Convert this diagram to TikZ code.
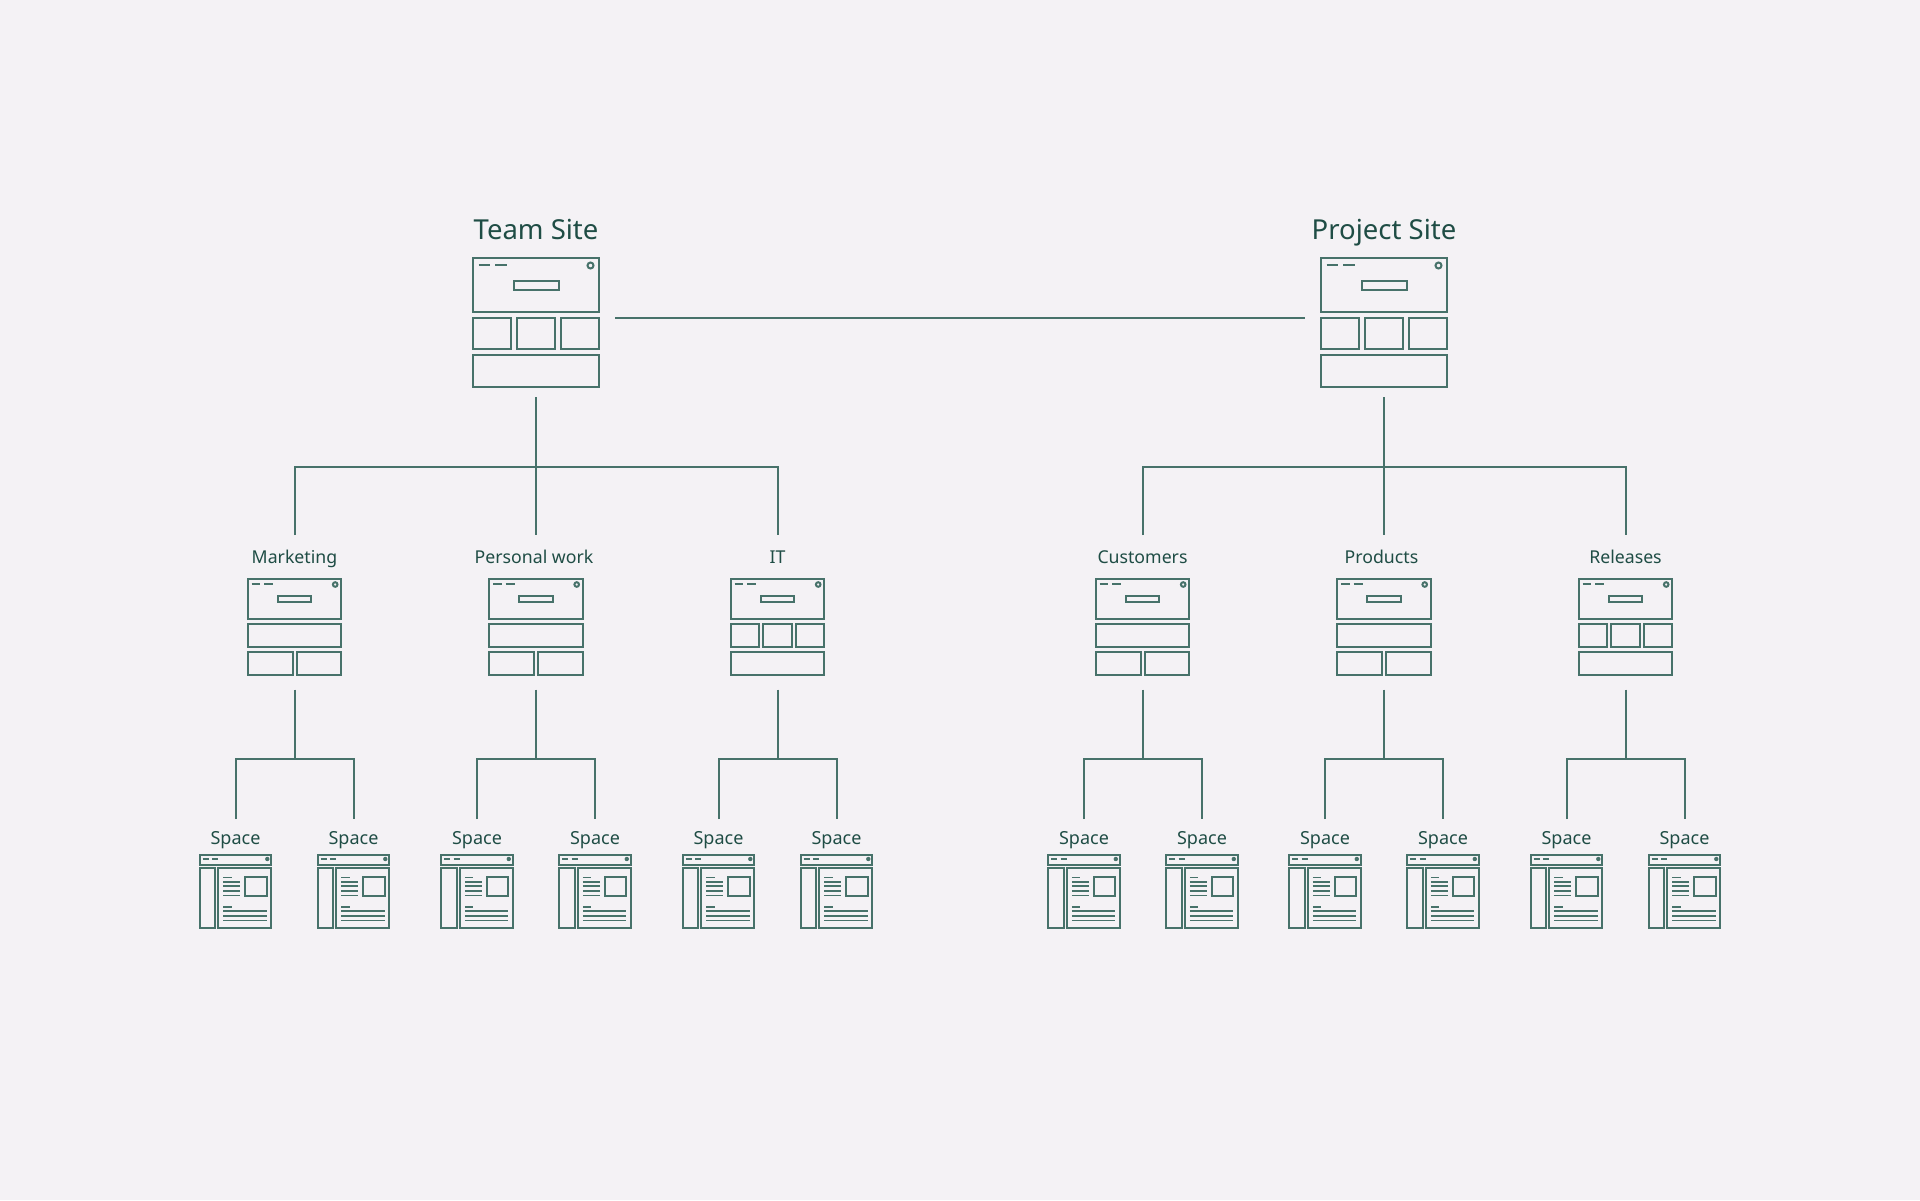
\documentclass[tikz,border=0pt]{standalone}
\usepackage{fontspec}
\setmainfont{Noto Sans}
\definecolor{bgc}{HTML}{F4F2F5}
\definecolor{lnc}{HTML}{47726A}
\definecolor{txc}{HTML}{1F4D45}
\tikzset{
  ln/.style={draw=lnc,line width=2pt,fill=none},
  thin ln/.style={draw=lnc,line width=1.6pt},
  hit/.style={inner sep=0pt,outer sep=0pt,draw=none},
  bigtxt/.style={anchor=base,text=txc,inner sep=0pt,font=\fontsize{27.5}{32}\selectfont},
  midtxt/.style={anchor=base,text=txc,inner sep=0pt,font=\fontsize{17.7}{22}\selectfont},
  smalltxt/.style={anchor=base,text=txc,inner sep=0pt,font=\fontsize{18}{22}\selectfont},
}
% name, x, label
\newcommand{\bigicon}[3]{%
  \node[hit,minimum width=158pt,minimum height=158pt] (#1) at (#2,318) {};
  \node[bigtxt] (#1-label) at (#2,239) {#3};
  \begin{scope}[shift={(#2,0)}]
    \draw[ln] (-62.6,258.2) rectangle (62.6,311.7);
    \draw[ln] (-22.5,280.7) rectangle (22.5,289.5);
    \draw[ln] (-57.5,265) -- (-46,265) (-41,265) -- (-29,265);
    \draw[ln] (54.5,265.5) circle (3);
    \draw[ln] (-62.6,317.7) rectangle (-25,349);
    \draw[ln] (-19.2,317.7) rectangle (19.2,349);
    \draw[ln] (25,317.7) rectangle (62.6,349);
    \draw[ln] (-62.6,355.3) rectangle (62.6,387);
  \end{scope}}
% name, x, label offset, label
\newcommand{\midtop}[4]{%
  \node[hit,minimum width=94.4pt,minimum height=154.5pt] (#1) at (#2,612.25) {};
  \node[midtxt] (#1-label) at (#2+#3,563.3) {#4};
  \begin{scope}[shift={(#2,0)}]
    \draw[ln] (-46.9,579.2) rectangle (46.9,618.7);
    \draw[ln] (-16.8,595.7) rectangle (16.8,602.3);
    \draw[ln] (-43,584) -- (-34.5,584) (-30.5,584) -- (-21.5,584);
    \draw[ln] (40.7,584.5) circle (2.3);
  \end{scope}}
\newcommand{\midtwo}[4]{%
  \midtop{#1}{#2}{#3}{#4}
  \begin{scope}[shift={(#2,0)}]
    \draw[ln] (-46.9,623.7) rectangle (46.9,647.3);
    \draw[ln] (-46.9,651.7) rectangle (-1.8,675.4);
    \draw[ln] (2.2,651.7) rectangle (46.9,675.4);
  \end{scope}}
\newcommand{\midthree}[4]{%
  \midtop{#1}{#2}{#3}{#4}
  \begin{scope}[shift={(#2,0)}]
    \draw[ln] (-46.9,623.7) rectangle (-18.2,647.3);
    \draw[ln] (-14.4,623.7) rectangle (14.4,647.3);
    \draw[ln] (18.2,623.7) rectangle (46.9,647.3);
    \draw[ln] (-46.9,651.7) rectangle (46.9,675.4);
  \end{scope}}
% name, x
\newcommand{\spaceicon}[2]{%
  \node[hit,minimum width=72.4pt,minimum height=113pt] (#1) at (#2,875.5) {};
  \node[smalltxt] (#1-label) at (#2,844) {Space};
  \begin{scope}[shift={(#2,0)}]
    \draw[ln] (-35.8,854.9) rectangle (35.8,864.7);
    \draw[thin ln] (-33,858.7) -- (-27,858.7) (-23.5,858.7) -- (-17.5,858.7);
    \fill[lnc] (31.8,859) circle (2.2);
    \draw[ln] (-35.8,868.3) rectangle (-20.5,928);
    \draw[ln] (-17.2,868.3) rectangle (35.8,928);
    \draw[ln] (9.8,877) rectangle (31.2,895.7);
    \draw[thin ln] (-12.2,877.3) -- (-3.8,877.3)
      (-12.2,881.7) -- (4.5,881.7) (-12.2,886) -- (4.5,886)
      (-12.2,890.7) -- (4.5,890.7) (-12.2,895.3) -- (4.5,895.3)
      (-12.2,906.7) -- (-3.8,906.7)
      (-12.2,911) -- (31.2,911) (-12.2,916) -- (31.2,916) (-12.2,920.3) -- (31.2,920.3);
  \end{scope}}
% parent name, left child, right child (parent's junction at y=759)
\newcommand{\leaftree}[3]{%
  \coordinate (#1J) at (#1.south |- 0,759);
  \draw[ln] (#1.south) -- (#1J);
  \draw[ln] (#2.north) |- (#1J) -| (#3.north);}
\begin{document}
\begin{tikzpicture}[x=1pt,y=-1pt]
  \useasboundingbox (0,0) rectangle (1920,1200);
  \fill[bgc] (0,0) rectangle (1920,1200);

  \bigicon{team}{536}{Team Site}
  \bigicon{project}{1384}{Project Site}

  \midtwo{marketing}{294.5}{0}{Marketing}
  \midtwo{personal}{536}{-2}{Personal work}
  \midthree{it}{777.5}{0}{IT}
  \midtwo{customers}{1142.5}{0}{Customers}
  \midtwo{products}{1384}{-2.5}{Products}
  \midthree{releases}{1625.5}{0}{Releases}

  \spaceicon{s1}{235.5}
  \spaceicon{s2}{353.5}
  \spaceicon{s3}{477}
  \spaceicon{s4}{595}
  \spaceicon{s5}{718.5}
  \spaceicon{s6}{836.5}
  \spaceicon{s7}{1084}
  \spaceicon{s8}{1202}
  \spaceicon{s9}{1325}
  \spaceicon{s10}{1443}
  \spaceicon{s11}{1566.5}
  \spaceicon{s12}{1684.5}

  \draw[ln] (team.east) -- (project.west);

  \coordinate (teamJ) at (team.south |- 0,466.5);
  \draw[ln] (team.south) -- (personal.north);
  \draw[ln] (marketing.north) |- (teamJ) -| (it.north);
  \coordinate (projectJ) at (project.south |- 0,466.5);
  \draw[ln] (project.south) -- (products.north);
  \draw[ln] (customers.north) |- (projectJ) -| (releases.north);

  \leaftree{marketing}{s1}{s2}
  \leaftree{personal}{s3}{s4}
  \leaftree{it}{s5}{s6}
  \leaftree{customers}{s7}{s8}
  \leaftree{products}{s9}{s10}
  \leaftree{releases}{s11}{s12}
\end{tikzpicture}
\end{document}
